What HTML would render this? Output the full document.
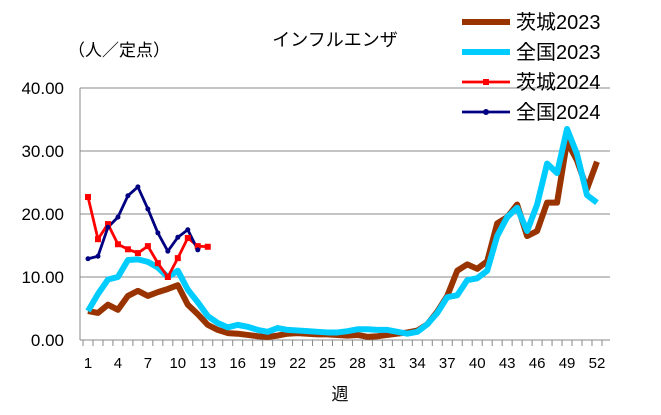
<!DOCTYPE html>
<html><head><meta charset="utf-8"><style>body{margin:0;background:#fff}svg{display:block;font-family:"Liberation Sans","Noto Sans CJK JP",sans-serif}</style></head>
<body><svg id="s" width="661" height="415" xmlns="http://www.w3.org/2000/svg">
<rect width="661" height="415" fill="#fff"/>
<g stroke="#888" stroke-width="1">
<line x1="80" y1="88" x2="610" y2="88"/><line x1="80" y1="151" x2="610" y2="151"/><line x1="80" y1="214" x2="610" y2="214"/><line x1="80" y1="277" x2="610" y2="277"/>
<line x1="80" y1="340" x2="610" y2="340"/><line x1="80" y1="88" x2="80" y2="340"/>
</g>
<g font-size="17" fill="#000" text-anchor="end">
<text x="64" y="94">40.00</text><text x="64" y="157">30.00</text><text x="64" y="220">20.00</text><text x="64" y="283">10.00</text><text x="64" y="346">0.00</text>
</g>
<text x="335" y="46" font-size="18" text-anchor="middle">インフルエンザ</text>
<text x="68" y="56" font-size="17">（人／定点）</text>
<text x="340" y="400" font-size="17" text-anchor="middle">週</text>
<g id="ticks" stroke="#888"></g><g id="xl" font-size="15" text-anchor="middle"></g>
<g id="lines" fill="none" stroke-linejoin="round"></g>
<g font-size="20">
<line x1="462" y1="22" x2="510" y2="22" stroke="#993300" stroke-width="6"/><text x="516" y="29">茨城2023</text>
<line x1="462" y1="52" x2="510" y2="52" stroke="#00ccff" stroke-width="6"/><text x="516" y="59">全国2023</text>
<line x1="462" y1="82" x2="510" y2="82" stroke="#ff0000" stroke-width="2.8"/><rect x="483" y="79" width="6" height="6" fill="#f00"/><text x="516" y="89">茨城2024</text>
<line x1="462" y1="112" x2="510" y2="112" stroke="#000080" stroke-width="2.8"/><circle cx="486" cy="112" r="3" fill="#000080"/><text x="516" y="119">全国2024</text>
</g>
</svg>
<script>
var X=w=>88+(w-1)*9.98,Y=v=>340-v*6.3,ns="http://www.w3.org/2000/svg";
function el(p,t,a){var e=document.createElementNS(ns,t);for(var k in a)e.setAttribute(k,a[k]);document.getElementById(p).appendChild(e);return e}
for(var w=1;w<=53;w++){var x=w==53?X(52.5):X(w)-5;el("ticks","line",{x1:x,y1:340,x2:x,y2:346});}
for(var w=1;w<=52;w+=3){var t=el("xl","text",{x:X(w),y:368});t.textContent=w;}
var i23=[4.6,4.3,5.6,4.8,7.0,7.8,7.0,7.6,8.1,8.7,5.6,4.1,2.4,1.6,1.1,1.0,0.8,0.6,0.5,0.7,1.0,1.1,1.0,0.9,0.9,0.8,0.7,0.8,0.5,0.6,0.8,1.0,1.2,1.5,2.5,4.5,7,11,12,11.3,12.5,18.5,19.5,21.5,16.5,17.3,21.8,21.8,31.5,28.5,24,28.3];
var n23=[4.6,7.3,9.6,10.0,12.7,12.8,12.4,11.5,10.0,11.0,8.0,6.0,3.8,2.7,2.0,2.4,2.1,1.6,1.3,1.9,1.6,1.5,1.4,1.3,1.2,1.2,1.4,1.7,1.7,1.6,1.6,1.3,1.0,1.3,2.5,4.3,6.8,7.1,9.5,9.8,11,16.5,19.5,21,17.3,21.5,28,26.5,33.5,29.5,23,21.8];
var i24=[22.7,16.0,18.4,15.2,14.4,13.8,14.9,12.2,10.0,13.0,16.2,14.9,14.8];
var n24=[12.9,13.3,17.9,19.5,22.9,24.3,20.8,17.0,14.1,16.3,17.5,14.3];
function pl(d,c,sw){el("lines","polyline",{points:d.map((v,i)=>X(i+1)+","+Y(v)).join(" "),stroke:c,"stroke-width":sw});}
pl(i23,"#993300",6);pl(n23,"#00ccff",6);pl(i24,"#ff0000",2.8);pl(n24,"#000080",2.8);
i24.forEach((v,i)=>el("lines","rect",{x:X(i+1)-3,y:Y(v)-3,width:6,height:6,fill:"#f00",stroke:"none"}));
n24.forEach((v,i)=>el("lines","circle",{cx:X(i+1),cy:Y(v),r:2.5,fill:"#000080",stroke:"none"}));
</script>
</body></html>
